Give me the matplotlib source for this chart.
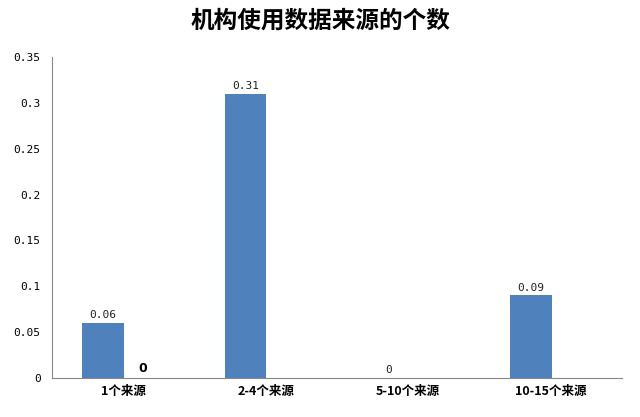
import matplotlib
matplotlib.use("Agg")
import matplotlib.pyplot as plt
import numpy as np

plt.rcParams['font.family'] = ['Noto Sans CJK SC', 'DejaVu Sans']

categories = ["1个来源", "2-4个来源", "5-10个来源", "10-15个来源"]
series1 = [0.06, 0.31, 0, 0.09]
series2 = [0, None, None, None]
yticks = [0, 0.05, 0.1, 0.15, 0.2, 0.25, 0.3, 0.35]
ytick_labels = ["0", "0.05", "0.1", "0.15", "0.2", "0.25", "0.3", "0.35"]

fig = plt.figure(figsize=(6.4, 4.17), dpi=100)
ax = fig.add_axes([0.081, 0.094, 0.891, 0.769])

x = np.arange(len(categories))
w = 0.29
off = 0.14
ax.bar(x - off, series1, width=w, color="#4F81BD")
for xi, v in zip(x, series1):
    ax.text(xi - off, v + 0.003, f"{v:g}", ha="center", va="bottom",
            fontsize=8, family="DejaVu Sans Mono", color="#222222")
for xi, v in zip(x, series2):
    if v is None:
        continue
    ax.bar(xi + off, v, width=w, color="#C0504D")
    ax.text(xi + off, v + 0.003, f"{v:g}", ha="center", va="bottom",
            fontsize=9, fontweight="bold", family="DejaVu Sans")

ax.set_xlim(-0.5, 3.5)
ax.set_ylim(0, 0.35)
ax.set_yticks(yticks)
ax.set_yticklabels(ytick_labels, family="DejaVu Sans Mono", fontsize=8)
ax.set_xticks(x)
ax.set_xticklabels(categories, fontsize=9, fontweight="bold")
ax.tick_params(axis="x", length=0, pad=5)
ax.tick_params(axis="y", length=0, pad=8)
for s in ["top", "right"]:
    ax.spines[s].set_visible(False)
for s in ["left", "bottom"]:
    ax.spines[s].set_color("#888888")

fig.suptitle("机构使用数据来源的个数", fontsize=17, fontweight="bold", y=0.98)

fig.savefig("out.png", dpi=100)
